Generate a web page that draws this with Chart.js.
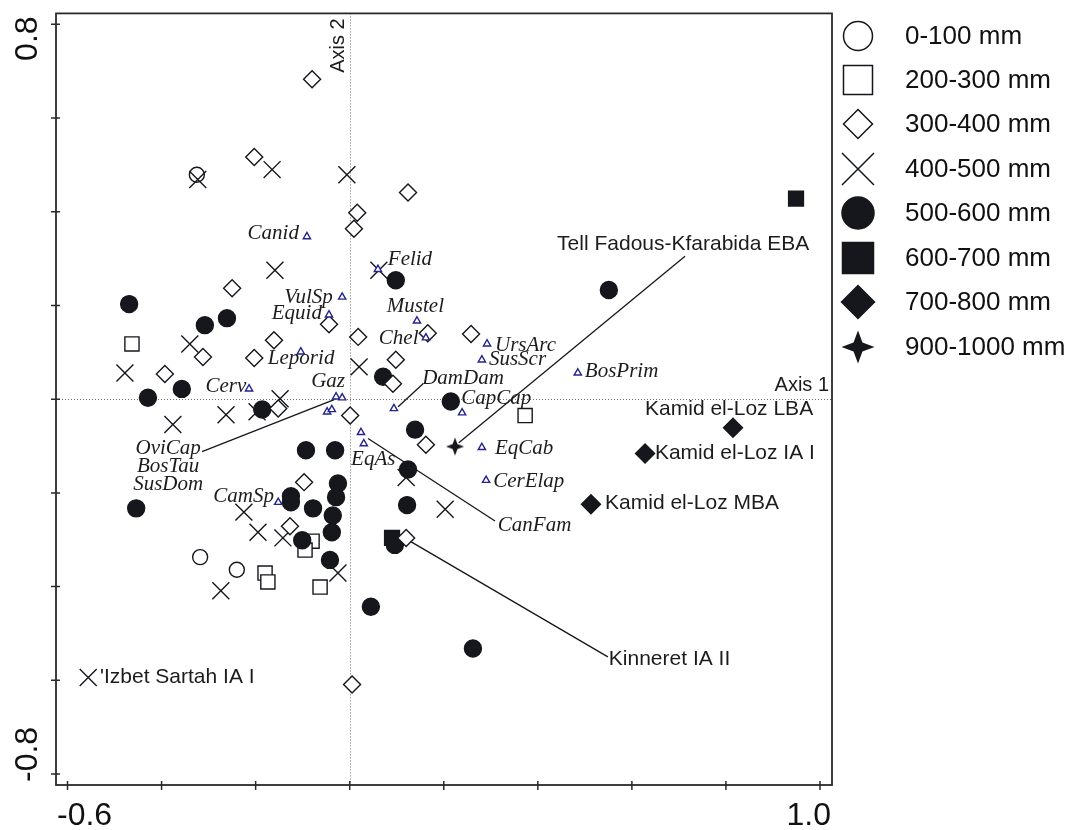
<!DOCTYPE html>
<html>
<head>
<meta charset="utf-8">
<script src="https://cdn.jsdelivr.net/npm/chart.js@4.4.1/dist/chart.umd.min.js"></script>
<style>
  html, body { margin: 0; padding: 0; background: #fff; }
  #wrap { width: 1072px; height: 830px; }
</style>
</head>
<body>
<div id="wrap"><canvas id="cva" width="1072" height="830"></canvas></div>
<script>
/* CVA ordination — sites by rainfall class, species scores as triangles */

/* ── axes ── */
const X_MIN = -0.6245, X_MAX = 1.0255;
const Y_MIN = -0.8234, Y_MAX = 0.8234;
const X_TICKS = [-0.6, -0.4, -0.2, 0, 0.2, 0.4, 0.6, 0.8, 1.0];
const Y_TICKS = [-0.8, -0.6, -0.4, -0.2, 0, 0.2, 0.4, 0.6, 0.8];
const X_TICK_LABELS = ['-0.6', '1.0'];
const Y_TICK_LABELS = ['-0.8', '0.8'];

/* ── sites, one list per rainfall class ── */
const RAIN_LABELS = ['0-100 mm', '200-300 mm', '300-400 mm', '400-500 mm',
                     '500-600 mm', '600-700 mm', '700-800 mm', '900-1000 mm'];

const PTS_0_100 = [[-0.325, 0.479], [-0.318, -0.337], [-0.240, -0.364]];

const PTS_200_300 = [[-0.463, 0.118], [0.373, -0.035], [-0.080, -0.303], [-0.095, -0.322],
                     [-0.180, -0.371], [-0.174, -0.390], [-0.063, -0.401]];

const PTS_300_400 = [[-0.080, 0.683], [-0.203, 0.517], [0.124, 0.441], [0.016, 0.398],
                     [0.009, 0.364], [-0.250, 0.237], [-0.044, 0.160], [-0.161, 0.126],
                     [0.018, 0.133], [0.166, 0.141], [0.258, 0.139], [-0.312, 0.090],
                     [-0.203, 0.088], [0.098, 0.084], [-0.393, 0.054], [0.092, 0.033],
                     [-0.152, -0.020], [0.001, -0.035], [0.162, -0.097], [-0.097, -0.177],
                     [-0.127, -0.271], [0.120, -0.296], [0.005, -0.609]];

const PTS_400_500 = [[-0.323, 0.469], [-0.165, 0.490], [-0.006, 0.479], [-0.159, 0.275],
                     [0.062, 0.275], [-0.340, 0.118], [-0.478, 0.056], [0.020, 0.069],
                     [-0.148, 0.001], [-0.376, -0.054], [-0.263, -0.033], [-0.197, -0.027],
                     [-0.225, -0.241], [-0.195, -0.284], [-0.142, -0.296], [-0.274, -0.409],
                     [-0.025, -0.371], [0.120, -0.167], [0.203, -0.235], [-0.556, -0.594]];

const PTS_500_600 = [[-0.469, 0.203], [-0.308, 0.158], [-0.261, 0.173], [0.098, 0.254],
                     [-0.429, 0.003], [-0.357, 0.022], [-0.186, -0.022], [0.071, 0.048],
                     [0.551, 0.233], [0.215, -0.005], [0.139, -0.065], [-0.454, -0.233],
                     [-0.093, -0.109], [-0.031, -0.109], [-0.025, -0.180], [-0.029, -0.209],
                     [-0.125, -0.207], [-0.125, -0.220], [-0.078, -0.233], [-0.036, -0.248],
                     [-0.038, -0.284], [-0.101, -0.301], [-0.042, -0.343], [0.045, -0.443],
                     [0.124, -0.150], [0.122, -0.226], [0.096, -0.311], [0.262, -0.532]];

const PTS_600_700 = [[0.949, 0.428], [0.090, -0.296]];
const PTS_700_800 = [[0.815, -0.061], [0.628, -0.116], [0.513, -0.224]];
const PTS_900_1000 = [[0.224, -0.101]];

const SITE_SETS = [PTS_0_100, PTS_200_300, PTS_300_400, PTS_400_500,
                   PTS_500_600, PTS_600_700, PTS_700_800, PTS_900_1000];

/* ── species scores ── */
const SPECIES_PTS = [[-0.091, 0.347], [-0.016, 0.218], [-0.044, 0.180], [-0.104, 0.101],
                     [-0.214, 0.022], [-0.029, 0.005], [-0.016, 0.003], [-0.048, -0.027],
                     [-0.038, -0.022], [0.060, 0.277], [0.143, 0.167], [0.162, 0.131],
                     [0.292, 0.118], [0.281, 0.084], [0.485, 0.056], [0.094, -0.020],
                     [0.239, -0.029], [0.024, -0.071], [0.030, -0.095], [0.281, -0.103],
                     [0.290, -0.173], [-0.152, -0.220]];

/* ── annotations: [text, x, y, align] in axis units ── */
const SPECIES_LABELS = [
  ['Canid', -0.108, 0.354, 'right'], ['VulSp', -0.036, 0.218, 'right'],
  ['Equid', -0.059, 0.182, 'right'], ['Leporid', -0.174, 0.086, 'left'],
  ['Cerv', -0.220, 0.027, 'right'],  ['Gaz', -0.010, 0.037, 'right'],
  ['Felid', 0.081, 0.299, 'left'],   ['Mustel', 0.079, 0.197, 'left'],
  ['Chel', 0.062, 0.129, 'left'],    ['UrsArc', 0.309, 0.114, 'left'],
  ['SusScr', 0.296, 0.084, 'left'],  ['DamDam', 0.154, 0.044, 'left'],
  ['CapCap', 0.237, 0.001, 'left'],  ['BosPrim', 0.500, 0.060, 'left'],
  ['EqAs', 0.003, -0.129, 'left'],   ['EqCab', 0.309, -0.105, 'left'],
  ['CerElap', 0.305, -0.175, 'left'], ['CanFam', 0.315, -0.269, 'left'],
  ['CamSp', -0.161, -0.207, 'right'],
  ['OviCap', -0.386, -0.105, 'center'], ['BosTau', -0.386, -0.144, 'center'],
  ['SusDom', -0.386, -0.182, 'center'],
];
const SITE_LABELS = [
  ['Tell Fadous-Kfarabida EBA', 0.441, 0.330, 'left'],
  ['Kamid el-Loz LBA', 0.628, -0.022, 'left'],
  ['Kamid el-Loz IA I', 0.649, -0.116, 'left'],
  ['Kamid el-Loz MBA', 0.543, -0.222, 'left'],
  ['Kinneret IA II', 0.551, -0.554, 'left'],
  ["'Izbet Sartah IA I", -0.531, -0.594, 'left'],
];
const LEADERS = [
  [[-0.314, -0.112], [-0.033, -0.001]],
  [[0.103, -0.016], [0.156, 0.033]],
  [[0.039, -0.084], [0.309, -0.260]],
  [[0.713, 0.305], [0.232, -0.093]],
  [[0.128, -0.303], [0.549, -0.550]],
];

/* ── styles ── */
const INK = '#15171c';
const TRI = '#25248f';
const MARKS = [
  { style: 'circle',   r: 7.5,  fill: '#fff', order: 8, leg: 14.5 },
  { style: 'rect',     r: 10,   fill: '#fff', order: 6, leg: 14.5 },
  { style: 'rectRot',  r: 8.5,  fill: '#fff', order: 3, leg: 14.5 },
  { style: 'crossRot', r: 12,   fill: '#fff', order: 7, leg: 16 },
  { style: 'circle',   r: 8.5,  fill: INK,    order: 4, leg: 16 },
  { style: 'rect',     r: 10.5, fill: INK,    order: 5, leg: 15.5 },
  { style: 'rectRot',  r: 9.5,  fill: INK,    order: 2, leg: 16.5 },
  { style: 'star',     r: 9,    fill: INK,    order: 1, leg: 16.5 },
];

function starPath(ctx, x, y, R) {
  const k = R * 0.27;
  ctx.beginPath();
  ctx.moveTo(x, y - R);
  ctx.lineTo(x + k, y - k); ctx.lineTo(x + R, y);
  ctx.lineTo(x + k, y + k); ctx.lineTo(x, y + R);
  ctx.lineTo(x - k, y + k); ctx.lineTo(x - R, y);
  ctx.lineTo(x - k, y - k); ctx.closePath();
}
function makeStar(R) {
  const c = document.createElement('canvas');
  c.width = c.height = Math.ceil(2 * R + 2);
  const g = c.getContext('2d');
  g.fillStyle = INK;
  starPath(g, c.width / 2, c.height / 2, R);
  g.fill();
  return c;
}

const toXY = arr => arr.map(([x, y]) => ({ x, y }));

const datasets = [];
SITE_SETS.forEach((pts, i) => {
  const m = MARKS[i];
  datasets.push({
    label: RAIN_LABELS[i],
    data: toXY(pts),
    pointStyle: m.style === 'star' ? makeStar(m.r) : m.style,
    pointRadius: m.r,
    backgroundColor: m.fill,
    borderColor: INK,
    borderWidth: 1.4,
    order: m.order,
  });
});
datasets.push({
  label: 'species',
  data: toXY(SPECIES_PTS),
  pointStyle: 'triangle', pointRadius: 4.2,
  backgroundColor: '#fff', borderColor: TRI, borderWidth: 1.4,
  order: 0,
});
LEADERS.forEach(seg => datasets.push({
  label: 'leader',
  data: toXY(seg),
  showLine: true, pointRadius: 0,
  borderColor: INK, borderWidth: 1.3,
  order: 9,
}));

/* ── legend marker for the key on the right ── */
function drawKeyMark(ctx, m, x, y) {
  const s = m.leg;
  ctx.fillStyle = m.fill; ctx.strokeStyle = INK; ctx.lineWidth = 1.5;
  ctx.beginPath();
  if (m.style === 'circle') ctx.arc(x, y, s, 0, Math.PI * 2);
  else if (m.style === 'rect') ctx.rect(x - s, y - s, 2 * s, 2 * s);
  else if (m.style === 'rectRot') {
    ctx.moveTo(x, y - s); ctx.lineTo(x + s, y); ctx.lineTo(x, y + s); ctx.lineTo(x - s, y); ctx.closePath();
  } else if (m.style === 'crossRot') {
    ctx.moveTo(x - s, y - s); ctx.lineTo(x + s, y + s);
    ctx.moveTo(x + s, y - s); ctx.lineTo(x - s, y + s);
    ctx.stroke(); return;
  } else if (m.style === 'star') { starPath(ctx, x, y, s); ctx.fill(); return; }
  ctx.fill(); ctx.stroke();
}

const frame = {
  id: 'frame',
  beforeDatasetsDraw(chart) {
    const { ctx, chartArea: a, scales: { x, y } } = chart;
    const x0 = x.getPixelForValue(0), y0 = y.getPixelForValue(0);
    ctx.save();
    ctx.strokeStyle = '#6e6e6e'; ctx.lineWidth = 1; ctx.setLineDash([1, 2]);
    ctx.beginPath();
    ctx.moveTo(Math.round(x0) + 0.5, a.top); ctx.lineTo(Math.round(x0) + 0.5, a.bottom);
    ctx.moveTo(a.left, Math.round(y0) + 0.5); ctx.lineTo(a.right, Math.round(y0) + 0.5);
    ctx.stroke();
    ctx.restore();
  },
  afterDatasetsDraw(chart) {
    const { ctx, scales: { x, y } } = chart;
    ctx.save();
    ctx.fillStyle = '#1c1c1c';
    ctx.textBaseline = 'middle';
    ctx.font = 'italic 21px "Liberation Serif"';
    SPECIES_LABELS.forEach(([t, vx, vy, al]) => {
      ctx.textAlign = al; ctx.fillText(t, x.getPixelForValue(vx), y.getPixelForValue(vy));
    });
    ctx.font = '21px "Liberation Sans"';
    SITE_LABELS.forEach(([t, vx, vy, al]) => {
      ctx.textAlign = al; ctx.fillText(t, x.getPixelForValue(vx), y.getPixelForValue(vy));
    });
    ctx.restore();
  },
  afterDraw(chart) {
    const { ctx, chartArea: a, scales: { x, y } } = chart;
    const x0 = x.getPixelForValue(0), y0 = y.getPixelForValue(0);
    ctx.save();
    /* frame + crossing ticks */
    ctx.strokeStyle = '#2a2a2a'; ctx.lineWidth = 1.8;
    ctx.strokeRect(a.left, a.top, a.right - a.left, a.bottom - a.top);
    ctx.lineWidth = 1.5;
    ctx.beginPath();
    X_TICKS.forEach(v => { const p = x.getPixelForValue(v); ctx.moveTo(p, a.bottom - 4); ctx.lineTo(p, a.bottom + 5); });
    Y_TICKS.forEach(v => { const p = y.getPixelForValue(v); ctx.moveTo(a.left - 5, p); ctx.lineTo(a.left + 4, p); });
    ctx.stroke();

    /* end tick labels */
    ctx.fillStyle = '#111';
    ctx.font = '32px "Liberation Sans"';
    ctx.textBaseline = 'alphabetic';
    ctx.textAlign = 'left';  ctx.fillText(X_TICK_LABELS[0], a.left + 1, a.bottom + 40);
    ctx.textAlign = 'right'; ctx.fillText(X_TICK_LABELS[1], a.right - 1, a.bottom + 40);
    ctx.save();
    ctx.translate(a.left - 19, a.bottom - 3); ctx.rotate(-Math.PI / 2);
    ctx.textAlign = 'left'; ctx.fillText(Y_TICK_LABELS[0], 0, 0);
    ctx.restore();
    ctx.save();
    ctx.translate(a.left - 19, a.top + 3); ctx.rotate(-Math.PI / 2);
    ctx.textAlign = 'right'; ctx.fillText(Y_TICK_LABELS[1], 0, 0);
    ctx.restore();

    /* axis names */
    ctx.font = '20px "Liberation Sans"';
    ctx.fillStyle = '#1c1c1c';
    ctx.textAlign = 'right';
    ctx.fillText('Axis 1', a.right - 3, y0 - 8);
    ctx.save();
    ctx.translate(x0 - 6, a.top + 5); ctx.rotate(-Math.PI / 2);
    ctx.fillText('Axis 2', 0, 0);
    ctx.restore();

    /* key */
    const rows = [36, 80, 124, 169, 213, 258, 302, 347];
    ctx.font = '26px "Liberation Sans"';
    ctx.textAlign = 'left'; ctx.textBaseline = 'middle';
    RAIN_LABELS.forEach((lab, i) => {
      drawKeyMark(ctx, MARKS[i], 858, rows[i]);
      ctx.fillStyle = '#111';
      ctx.fillText(lab, 905, rows[i] + 1);
    });
    ctx.restore();
  },
};

new Chart(document.getElementById('cva'), {
  type: 'scatter',
  data: { datasets },
  options: {
    responsive: false, animation: false, devicePixelRatio: 1,
    layout: { padding: { left: 56, top: 10, right: 240, bottom: 45 } },
    plugins: { legend: { display: false }, tooltip: { enabled: false } },
    scales: {
      x: { type: 'linear', min: X_MIN, max: X_MAX, display: false },
      y: { type: 'linear', min: Y_MIN, max: Y_MAX, display: false },
    },
  },
  plugins: [frame],
});
</script>
</body>
</html>
